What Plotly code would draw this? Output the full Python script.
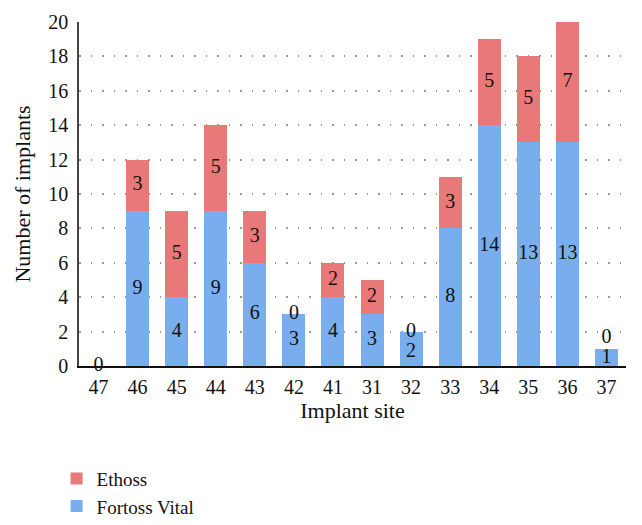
import plotly.graph_objects as go

sites = ["47", "46", "45", "44", "43", "42", "41", "31", "32", "33", "34", "35", "36", "37"]
fortoss = [0, 9, 4, 9, 6, 3, 4, 3, 2, 8, 14, 13, 13, 1]
ethoss = [0, 3, 5, 5, 3, 0, 2, 2, 0, 3, 5, 5, 7, 0]
y_ticks = [0, 2, 4, 6, 8, 10, 12, 14, 16, 18, 20]

FONT = "Liberation Serif, Times New Roman, serif"
BLUE = "#78adee"
RED = "#e97979"
FS = 20

fig = go.Figure()
fig.add_trace(go.Bar(x=sites, y=fortoss, name="Fortoss Vital",
                     marker=dict(color=BLUE, line=dict(width=0))))
fig.add_trace(go.Bar(x=sites, y=ethoss, name="Ethoss",
                     marker=dict(color=RED, line=dict(width=0))))

# value labels: centred in each segment; zero Ethoss labels sit at the bar top,
# nudged so the two labels of a short bar do not collide
MIN_Z = 1.65
GAP = 1.2
e_lab, f_lab = [], []
for f, e in zip(fortoss, ethoss):
    if e == 0:
        el = max(f, MIN_Z) if f > 0 else 0
        fl = min(f / 2, el - GAP) if f > 0 else 0
        fl = max(fl, f / 2 - 0.05) if f <= 1 else fl
    else:
        el = f + e / 2
        fl = f / 2
    e_lab.append(el)
    f_lab.append(fl)

fig.add_trace(go.Scatter(x=sites, y=f_lab, mode="text", text=[str(v) for v in fortoss],
                         textfont=dict(family=FONT, size=FS, color="#111"),
                         showlegend=False, hoverinfo="skip", cliponaxis=False))
fig.add_trace(go.Scatter(x=sites, y=e_lab, mode="text",
                         text=[str(v) if not (v == 0 and f == 0) else "" for v, f in zip(ethoss, fortoss)],
                         textfont=dict(family=FONT, size=FS, color="#111"),
                         showlegend=False, hoverinfo="skip", cliponaxis=False))

fig.update_layout(
    width=642, height=525,
    barmode="stack", bargap=0.41,
    plot_bgcolor="white", paper_bgcolor="white",
    margin=dict(l=71, r=24, t=14, b=167, autoexpand=False),
    font=dict(family=FONT, size=FS, color="#111"),
    legend=dict(x=-0.041, y=-0.272, xanchor="left", yanchor="top",
                traceorder="reversed", font=dict(family=FONT, size=19),
                tracegroupgap=0, itemwidth=30),
)
fig.update_xaxes(
    type="category", range=[-0.5, len(sites) - 0.5],
    showline=True, linecolor="#111", linewidth=1.5,
    showgrid=False, ticks="", tickfont=dict(size=FS), automargin=False,
    ticklabelstandoff=2,
    title=dict(text="Implant site", font=dict(size=22), standoff=6),
)
fig.update_yaxes(
    range=[0, 20], tickvals=y_ticks, showline=True, linecolor="#444", linewidth=1.5,
    showgrid=True, gridcolor="#999", griddash="1.5px,10px", gridwidth=1.5,
    zeroline=False, ticks="", tickfont=dict(size=FS), automargin=False,
    ticklabelstandoff=5,
    title=dict(text="Number of implants", font=dict(size=22), standoff=12),
)

fig.write_html("out.html")
